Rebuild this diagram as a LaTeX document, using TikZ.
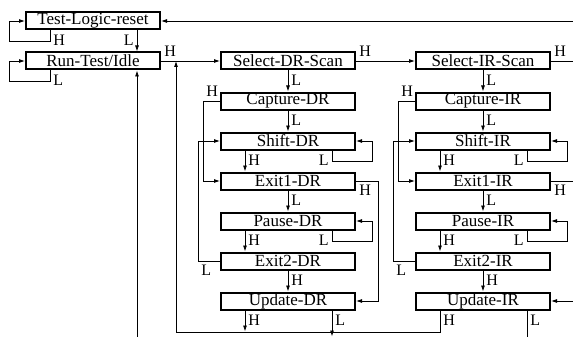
\documentclass[tikz,border=0pt]{standalone}
\usepackage{fontspec}
\setmainfont{Liberation Serif}
\usetikzlibrary{arrows.meta}
\begin{document}
\begin{tikzpicture}[x=1pt,y=-1pt,line width=0.8pt,
state/.style={draw,line width=2pt,minimum width=134pt,
minimum height=17pt,inner sep=0pt,font=\fontsize{17}{17}\selectfont},
lbl/.style={inner xsep=3pt,inner ysep=4pt,font=\fontsize{16}{16}\selectfont}]
\useasboundingbox (0,0) rectangle (573,337);

\node[state] (tlr) at (93,21) {Test-Logic-reset};
\node[state] (rti) at (93,61) {Run-Test/Idle};

\node[state] (seldr) at (288,61) {Select-DR-Scan};
\node[state] (capdr) at (288,101) {Capture-DR};
\node[state] (shdr) at (288,141) {Shift-DR};
\node[state] (exadr) at (288,181) {Exit1-DR};
\node[state] (padr) at (288,221) {Pause-DR};
\node[state] (exbdr) at (288,261) {Exit2-DR};
\node[state] (updr) at (288,301) {Update-DR};

\node[state] (selir) at (483,61) {Select-IR-Scan};
\node[state] (capir) at (483,101) {Capture-IR};
\node[state] (shir) at (483,141) {Shift-IR};
\node[state] (exair) at (483,181) {Exit1-IR};
\node[state] (pair) at (483,221) {Pause-IR};
\node[state] (exbir) at (483,261) {Exit2-IR};
\node[state] (upir) at (483,301) {Update-IR};

\coordinate (tlrin) at (573,21);
\coordinate (rtiin) at (137,337);
\coordinate (back) at (176,61);
\coordinate (selirout) at (573,61);
\coordinate (exairout) at (573,181);
\coordinate (upirin) at (573,301);

\begin{scope}[-{Latex[length=6pt,width=4pt]}]
% reset and idle
\draw (tlrin)--(tlr.east);
\draw ([xshift=25pt]tlr.south west)node[lbl,below right]{H}
|- (9,41) |- (tlr.west);
\draw ([xshift=-24pt]tlr.south east)node[lbl,below left]{L}
--([xshift=-24pt]rti.north east);
\draw ([xshift=25pt]rti.south west)node[lbl,below right]{L}
|- (9,81) |- (rti.west);
\draw (rti.east)node[lbl,above right]{H}--(seldr.west);
\draw (rtiin)--([xshift=-24pt]rti.south east);
\draw ([xshift=25pt]upir.south west)node[lbl,below right]{H}
|- (176,332)--(back);

% DR column
\draw (seldr.east)node[lbl,above right]{H}--(selir.west);
\draw (seldr.south)node[lbl,below right]{L}--(capdr.north);
\draw (capdr.west)--++(-17,0)node[lbl,above right]{H} |- (exadr.west);
\draw (capdr.south)node[lbl,below right]{L}--(shdr.north);
\draw ([xshift=25pt]shdr.south west)node[lbl,below right]{H}
--([xshift=25pt]exadr.north west);
\draw ([xshift=-24pt]shdr.south east)node[lbl,below left]{L}
|- ++(40,11) |- (shdr.east);
\draw (exadr.east)node[lbl,below right]{H}--++(22,0) |- (updr.east);
\draw (exadr.south)node[lbl,below right]{L}--(padr.north);
\draw ([xshift=25pt]padr.south west)node[lbl,below right]{H}
--([xshift=25pt]exbdr.north west);
\draw ([xshift=-24pt]padr.south east)node[lbl,below left]{L}
|- ++(40,11) |- (padr.east);
\draw (exbdr.west)--++(-22,0)node[lbl,below right]{L} |- (shdr.west);
\draw (exbdr.south)node[lbl,below right]{H}--(updr.north);
\draw ([xshift=25pt]updr.south west)node[lbl,below right]{H}--++(0,21);
\draw ([xshift=-24pt]updr.south east)node[lbl,below right]{L}--++(0,26);

% IR column
\draw (selir.south)node[lbl,below right]{L}--(capir.north);
\draw (capir.west)--++(-17,0)node[lbl,above right]{H} |- (exair.west);
\draw (capir.south)node[lbl,below right]{L}--(shir.north);
\draw ([xshift=25pt]shir.south west)node[lbl,below right]{H}
--([xshift=25pt]exair.north west);
\draw ([xshift=-24pt]shir.south east)node[lbl,below left]{L}
|- ++(40,11) |- (shir.east);
\draw (exair.south)node[lbl,below right]{L}--(pair.north);
\draw ([xshift=25pt]pair.south west)node[lbl,below right]{H}
--([xshift=25pt]exbir.north west);
\draw ([xshift=-24pt]pair.south east)node[lbl,below left]{L}
|- ++(40,11) |- (pair.east);
\draw (exbir.west)--++(-22,0)node[lbl,below right]{L} |- (shir.west);
\draw (exbir.south)node[lbl,below right]{H}--(upir.north);
\draw (upirin)--(upir.east);
\end{scope}

\draw (selir.east)node[lbl,above right]{H}--(selirout);
\draw (exair.east)node[lbl,below right]{H}--(exairout);
\draw ([xshift=-24pt]upir.south east)node[lbl,below right]{L}--++(0,26);

\end{tikzpicture}
\end{document}
